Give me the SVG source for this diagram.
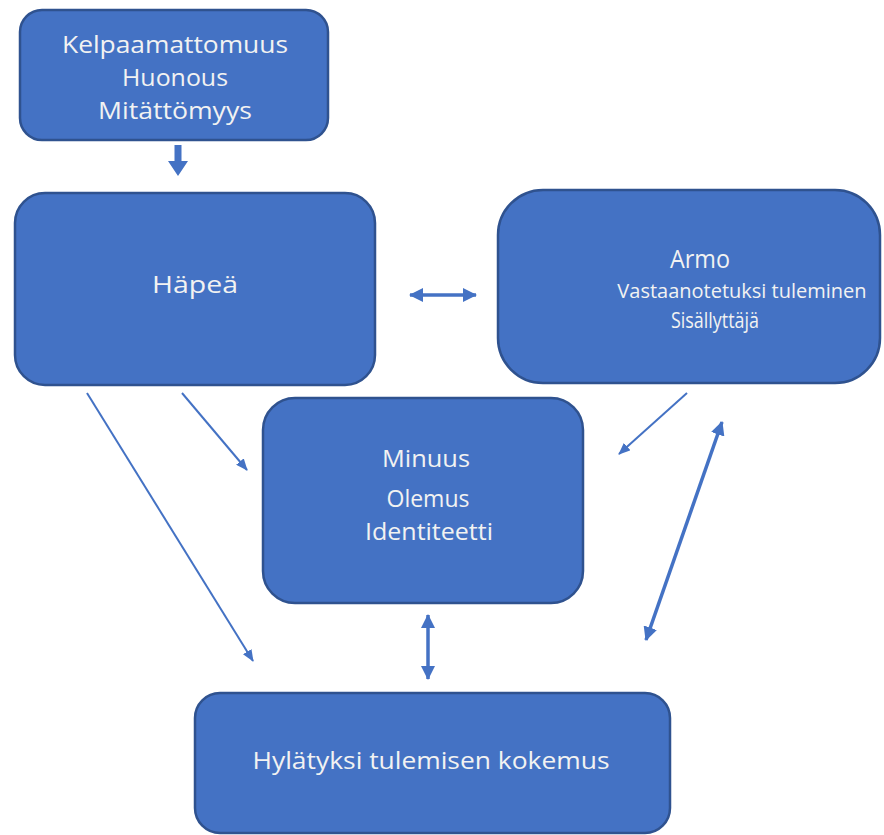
<svg xmlns="http://www.w3.org/2000/svg" width="884" height="835" viewBox="0 0 884 835">
<style>
.box{fill:#4472C4;stroke:#2F528F;stroke-width:2.5}
.t{font-family:"Open Sans","Noto Sans","Liberation Sans",sans-serif;fill:#F2F2F2;text-anchor:middle;font-size:24px}
.ts{font-size:22px}
.tv{font-size:20px}
.tl{font-size:25px}
.thin{stroke:#4472C4;stroke-width:2;fill:none}
.thick{stroke:#4472C4;stroke-width:3.5;fill:none}
</style>
<defs>
<marker id="ah" markerUnits="userSpaceOnUse" markerWidth="12" markerHeight="10" refX="11" refY="5" orient="auto">
<path d="M0,0 L12,5 L0,10 Z" fill="#4472C4"/>
</marker>
<marker id="ahb" markerUnits="userSpaceOnUse" markerWidth="14" markerHeight="14" refX="13" refY="7" orient="auto-start-reverse">
<path d="M0,0 L14,7 L0,14 Z" fill="#4472C4"/>
</marker>
</defs>
<rect width="884" height="835" fill="#FFFFFF"/>
<g id="connectors">
<path d="M174.5,145 H181.5 V161 H188 L178,176 L168,161 H174.5 Z" fill="#4472C4"/>
<line class="thick" x1="410" y1="295" x2="476" y2="295" marker-start="url(#ahb)" marker-end="url(#ahb)"/>
<line class="thin" x1="87" y1="393" x2="253" y2="661" marker-end="url(#ah)"/>
<line class="thin" x1="182" y1="393" x2="247" y2="470" marker-end="url(#ah)"/>
<line class="thin" x1="687" y1="393" x2="619" y2="454" marker-end="url(#ah)"/>
<line class="thick" x1="722" y1="422" x2="646" y2="640" marker-start="url(#ahb)" marker-end="url(#ahb)"/>
<line class="thick" x1="428" y1="615" x2="428" y2="679" marker-start="url(#ahb)" marker-end="url(#ahb)"/>
</g>
<g id="n1">
<rect class="box" x="20" y="10" width="308" height="130" rx="22"/>
<text class="t" x="175" y="53" textLength="226" lengthAdjust="spacingAndGlyphs">Kelpaamattomuus</text>
<text class="t" x="175" y="86" textLength="106" lengthAdjust="spacingAndGlyphs">Huonous</text>
<text class="t" x="175" y="119" textLength="154" lengthAdjust="spacingAndGlyphs">Mitättömyys</text>
</g>
<g id="hapea">
<rect class="box" x="15" y="193" width="360" height="192" rx="30"/>
<text class="t" x="195" y="293" textLength="86" lengthAdjust="spacingAndGlyphs">Häpeä</text>
</g>
<g id="armo">
<rect class="box" x="498" y="190" width="382" height="193" rx="45"/>
<text class="t tl" x="700" y="268" textLength="60" lengthAdjust="spacingAndGlyphs">Armo</text>
<text class="t tv" x="742" y="298">Vastaanotetuksi tuleminen</text>
<text class="t ts" x="715" y="328" textLength="88" lengthAdjust="spacingAndGlyphs">Sisällyttäjä</text>
</g>
<g id="minuus">
<rect class="box" x="263" y="398" width="320" height="205" rx="32"/>
<text class="t" x="426" y="467" textLength="88" lengthAdjust="spacingAndGlyphs">Minuus</text>
<text class="t" x="428" y="507" textLength="83" lengthAdjust="spacingAndGlyphs">Olemus</text>
<text class="t" x="429" y="540" textLength="128" lengthAdjust="spacingAndGlyphs">Identiteetti</text>
</g>
<g id="hylatyksi">
<rect class="box" x="195" y="693" width="475" height="140" rx="25"/>
<text class="t" x="431" y="769" textLength="357" lengthAdjust="spacingAndGlyphs">Hylätyksi tulemisen kokemus</text>
</g>
</svg>
